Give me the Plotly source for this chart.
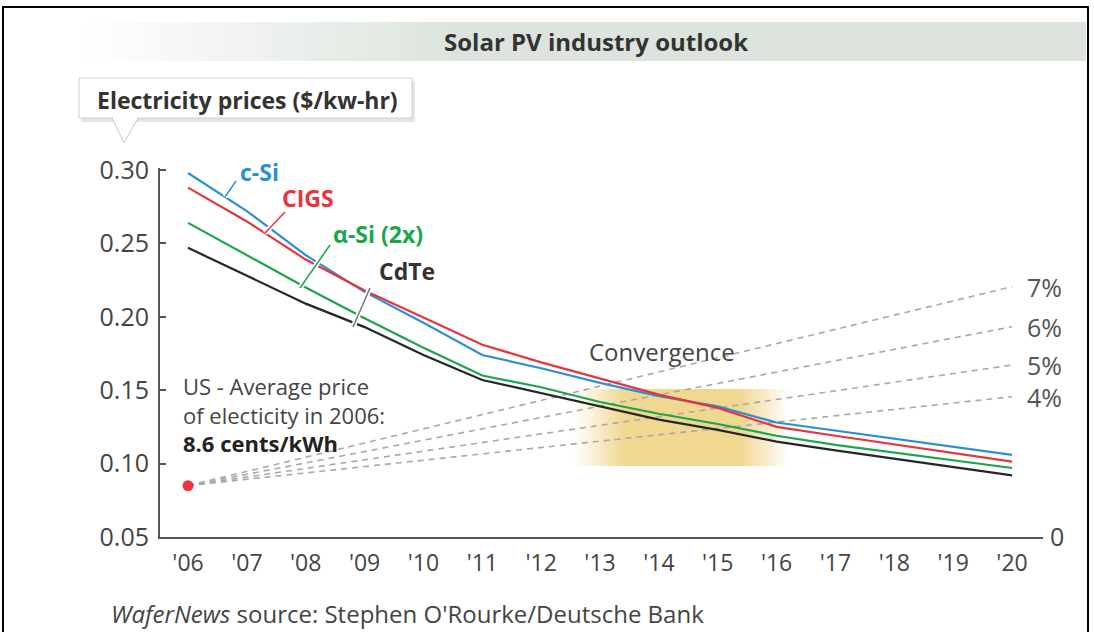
import plotly.graph_objects as go

# ---------------- data ----------------
years = list(range(2006, 2021))
year_labels = ["'06", "'07", "'08", "'09", "'10", "'11", "'12", "'13",
               "'14", "'15", "'16", "'17", "'18", "'19", "'20"]

c_si = [0.298, 0.272, 0.242, 0.217, 0.196, 0.174, 0.165, 0.155,
        0.146, 0.139, 0.128, 0.1225, 0.1173, 0.1115, 0.106]
cigs = [0.288, 0.265, 0.239, 0.218, 0.1995, 0.181, 0.169, 0.158,
        0.147, 0.138, 0.125, 0.119, 0.1132, 0.107, 0.1013]
a_si = [0.264, 0.242, 0.220, 0.199, 0.179, 0.160, 0.152, 0.142,
        0.134, 0.127, 0.119, 0.1128, 0.1075, 0.102, 0.097]
cdte = [0.247, 0.228, 0.209, 0.193, 0.174, 0.157, 0.148, 0.139,
        0.130, 0.123, 0.115, 0.109, 0.1035, 0.0978, 0.092]

us_price_2006 = 0.085
growth_labels = ["7%", "6%", "5%", "4%"]
growth_end_2020 = [0.2205, 0.1933, 0.1672, 0.1456]

y_ticks = [0.05, 0.10, 0.15, 0.20, 0.25, 0.30]
y_tick_text = ["0.05", "0.10", "0.15", "0.20", "0.25", "0.30"]

# ---------------- layout geometry ----------------
W, H = 1094, 632
L, R, T, B = 160, 1043, 168, 537
FONT = "Open Sans"


def px(x):
    return (x - L) / (R - L)


def py(y):
    return (B - y) / (B - T)


BLUE = "#2b8fd8"
RED = "#e8343c"
GREEN = "#1ba64b"
BLACK = "#262626"
TXT = "#444444"

fig = go.Figure()

# dashed growth lines from 2006 price
for lab, end in zip(growth_labels, growth_end_2020):
    fig.add_trace(go.Scatter(
        x=[years[0], years[-1]], y=[us_price_2006, end], mode="lines",
        line=dict(color="#a8a8a8", width=1.6, dash="6px,5px"),
        hoverinfo="skip", showlegend=False))

series = [("CdTe", cdte, BLACK), ("α-Si (2x)", a_si, GREEN),
          ("c-Si", c_si, BLUE), ("CIGS", cigs, RED)]
for name, vals, col in series:
    fig.add_trace(go.Scatter(x=years, y=vals, mode="lines", name=name,
                             line=dict(color=col, width=2.2),
                             showlegend=False))

fig.add_trace(go.Scatter(x=[years[0]], y=[us_price_2006], mode="markers",
                         marker=dict(color=RED, size=11),
                         cliponaxis=False, showlegend=False))

shapes = []

# outer frame
shapes.append(dict(type="rect", xref="paper", yref="paper",
                   x0=px(3), x1=px(1088), y0=py(660), y1=py(7),
                   line=dict(color="black", width=2), fillcolor="rgba(0,0,0,0)",
                   layer="below"))

# title band with left fade
band_col = (221, 228, 221)
n = 40
x_start, x_full, x_end = 85, 460, 1086
for i in range(n):
    a = (i + 0.5) / n
    c = tuple(int(255 + (bc - 255) * a) for bc in band_col)
    x0 = x_start + (x_full - x_start) * i / n
    x1 = x_start + (x_full - x_start) * (i + 1) / n + 0.6
    shapes.append(dict(type="rect", xref="paper", yref="paper",
                       x0=px(x0), x1=px(x1), y0=py(61), y1=py(22),
                       line=dict(width=0), fillcolor="rgb(%d,%d,%d)" % c,
                       layer="below"))
shapes.append(dict(type="rect", xref="paper", yref="paper",
                   x0=px(x_full), x1=px(x_end), y0=py(61), y1=py(22),
                   line=dict(width=0), fillcolor="rgb(%d,%d,%d)" % band_col,
                   layer="below"))

# callout box with shadow and pointer
shapes.append(dict(type="rect", xref="paper", yref="paper",
                   x0=px(81), x1=px(415), y0=py(122), y1=py(81),
                   line=dict(width=0), fillcolor="rgba(0,0,0,0.10)", layer="below"))
shapes.append(dict(type="path", xref="paper", yref="paper",
                   path="M %f %f L %f %f L %f %f Z" % (px(112), py(118), px(124), py(143), px(138), py(118)),
                   line=dict(color="#c8c8c8", width=1), fillcolor="white", layer="below"))
shapes.append(dict(type="rect", xref="paper", yref="paper",
                   x0=px(79), x1=px(412), y0=py(118), y1=py(78),
                   line=dict(color="#cfcfcf", width=1), fillcolor="white", layer="below"))
shapes.append(dict(type="rect", xref="paper", yref="paper",
                   x0=px(113), x1=px(137), y0=py(119.5), y1=py(116),
                   line=dict(width=0), fillcolor="white", layer="below"))

# convergence gradient box
conv_col = (240, 214, 140)
cx0, cx1, cy0, cy1 = 575, 790, 389, 466
ns = 60
for i in range(ns):
    xa = cx0 + (cx1 - cx0) * i / ns
    xb = cx0 + (cx1 - cx0) * (i + 1) / ns + 0.6
    xm = (xa + xb) / 2
    if xm < 625:
        a = (xm - cx0) / 50
    elif xm > 740:
        a = (cx1 - xm) / 50
    else:
        a = 1.0
    a = max(0.0, min(1.0, a)) * 0.95
    c = tuple(int(255 + (cc - 255) * a) for cc in conv_col)
    shapes.append(dict(type="rect", xref="paper", yref="paper",
                       x0=px(xa), x1=px(xb), y0=py(cy1), y1=py(cy0),
                       line=dict(width=0), fillcolor="rgb(%d,%d,%d)" % c,
                       layer="below"))

# leader lines for series labels
leaders = [((225, 197), (236, 181), BLUE), ((265, 233), (285, 212), RED),
           ((300, 288), (330, 245), GREEN), ((353, 327), (370, 288), "#777777")]
for (xa, ya), (xb, yb), col in leaders:
    shapes.append(dict(type="line", xref="paper", yref="paper",
                       x0=px(xa), y0=py(ya), x1=px(xb), y1=py(yb),
                       line=dict(color="white", width=5)))
    shapes.append(dict(type="line", xref="paper", yref="paper",
                       x0=px(xa), y0=py(ya), x1=px(xb), y1=py(yb),
                       line=dict(color=col, width=1.5)))

annotations = []


def ann(text, x, y, size, color, xanchor="center", yanchor="middle", align="center"):
    annotations.append(dict(text=text, xref="paper", yref="paper", x=px(x), y=py(y),
                            xanchor=xanchor, yanchor=yanchor, align=align,
                            showarrow=False, font=dict(family=FONT, size=size, color=color)))


ann("<b>Solar PV industry outlook</b>", 596, 41, 24, "#333333")
ann("<b>Electricity prices ($/kw-hr)</b>", 247, 100, 23, "#333333")
ann("<b>c-Si</b>", 259, 172, 23, BLUE)
ann("<b>CIGS</b>", 308, 198, 23, RED)
ann("<b>α-Si (2x)</b>", 378, 234, 23, GREEN)
ann("<b>CdTe</b>", 407, 271, 23, "#333333")
ann("Convergence", 662, 351, 24, TXT)
ann("US - Average price<br>of electicity in 2006:<br><b style='color:#222222'>8.6 cents/kWh</b>",
    181, 414, 22, TXT, xanchor="left", align="left")
for lab, end in zip(growth_labels, growth_end_2020):
    annotations.append(dict(text=lab, xref="paper", yref="y", x=px(1044), y=end,
                            xanchor="center", yanchor="middle", showarrow=False,
                            font=dict(family=FONT, size=25, color="#555555")))
ann("0", 1057, 536, 25, TXT)
ann("<i>WaferNews</i> source: Stephen O'Rourke/Deutsche Bank", 109, 613, 24, TXT,
    xanchor="left")

fig.update_layout(
    width=W, height=H,
    margin=dict(l=L, r=W - R, t=T, b=H - B, pad=0),
    paper_bgcolor="white", plot_bgcolor="white",
    shapes=shapes, annotations=annotations,
    font=dict(family=FONT, color=TXT),
    xaxis=dict(range=[2005.524, 2020.526], tickvals=years, ticktext=year_labels,
               showgrid=False, zeroline=False, showline=True, linecolor="#555555",
               linewidth=2, ticks="", tickfont=dict(size=23, color=TXT),
               ticklabelstandoff=4),
    yaxis=dict(range=[0.05, 0.3014], tickvals=y_ticks, ticktext=y_tick_text,
               showgrid=False, zeroline=False, showline=True, linecolor="#555555",
               linewidth=2, ticks="inside", ticklen=6, tickwidth=1.5,
               tickcolor="#555555", tickfont=dict(size=25, color=TXT),
               ticklabelstandoff=4),
)

fig.write_html("out.html", config={"displayModeBar": False},
               post_script="document.body.style.margin='0px';")
